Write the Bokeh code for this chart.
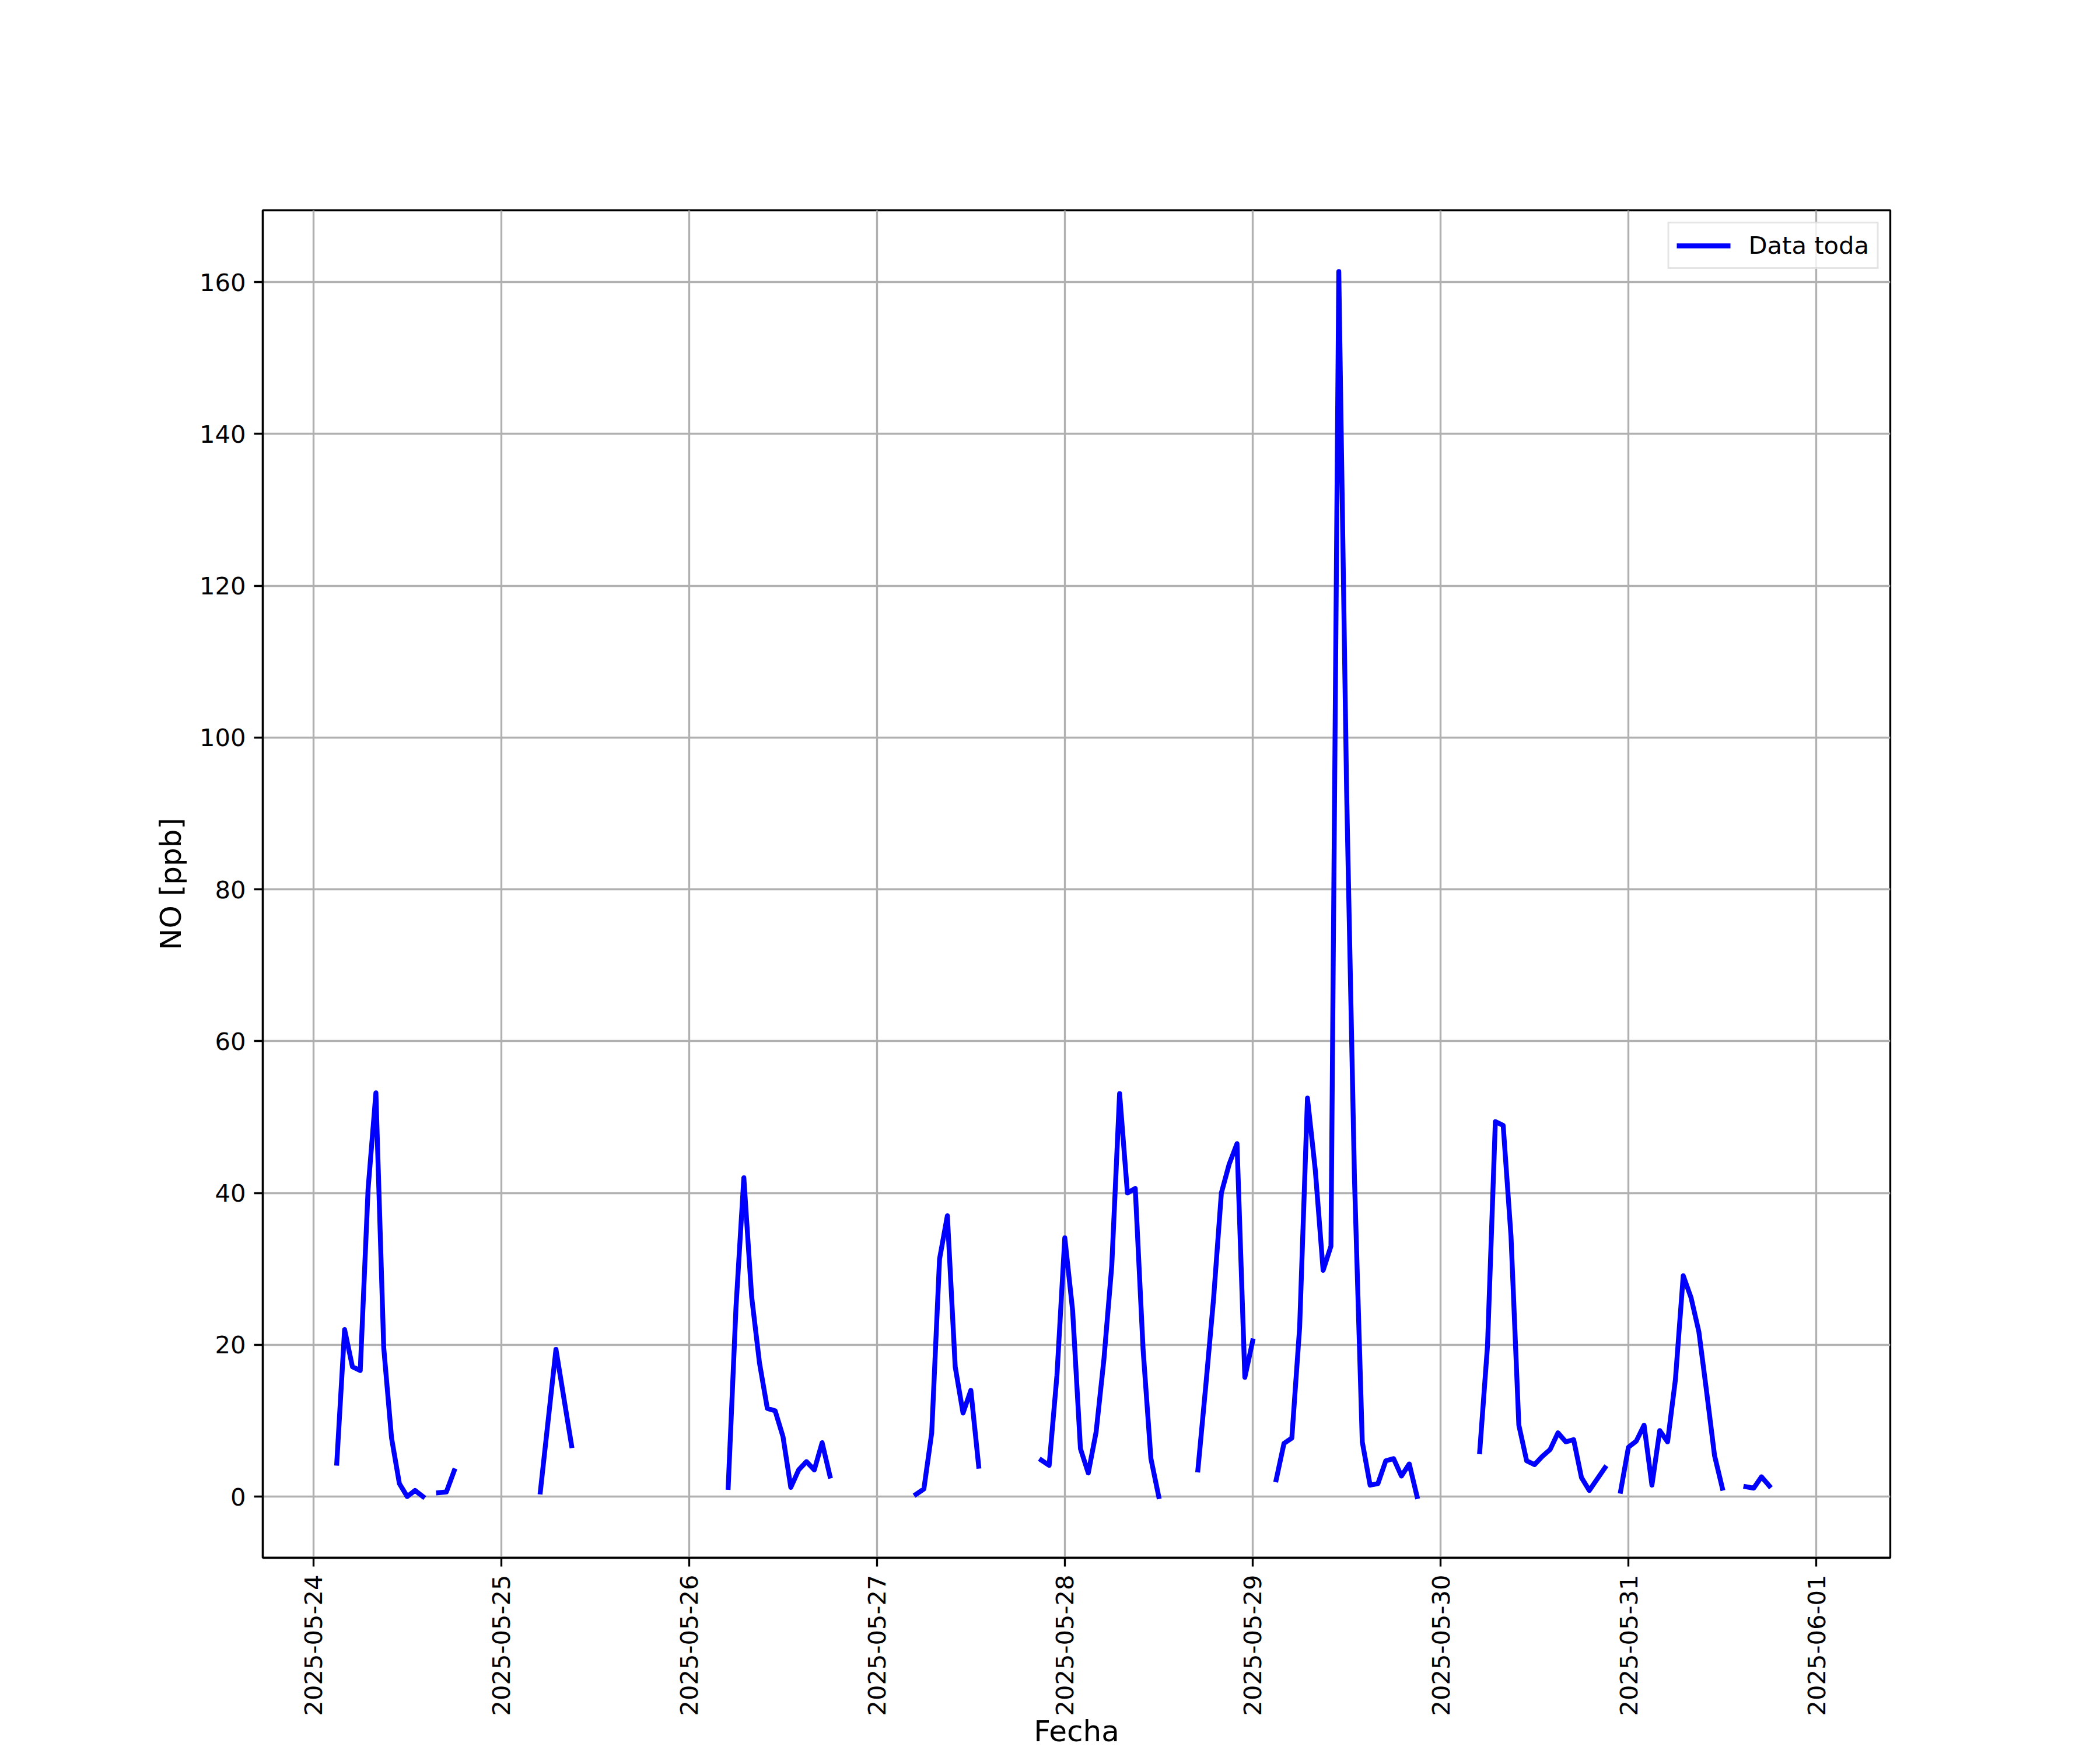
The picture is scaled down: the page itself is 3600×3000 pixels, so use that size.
import math
from datetime import datetime, timedelta

from bokeh.plotting import figure
from bokeh.models import (ColumnDataSource, Range1d, DaysTicker, DatetimeTickFormatter,
                          SingleIntervalTicker)
from bokeh.embed import file_html
from bokeh.resources import INLINE

# ---------------- data (NO, ppb; hourly readings, gaps = missing data) ----------------
seg1_start = "2025-05-24 03:00"
seg1_step_h = 1
seg1_vals = [4.4, 22.0, 17.1, 16.6, 40.5, 53.2, 19.6, 7.7, 1.7, 0.0, 0.8, 0.0]

seg2_start = "2025-05-24 16:00"
seg2_step_h = 1
seg2_vals = [0.5, 0.6, 3.4]

seg3_start = "2025-05-25 05:00"
seg3_step_h = 2
seg3_vals = [0.6, 19.4, 6.7]

seg4_start = "2025-05-26 05:00"
seg4_step_h = 1
seg4_vals = [1.2, 25.0, 42.0, 26.3, 17.6, 11.6, 11.3, 7.9, 1.2, 3.5, 4.6, 3.5, 7.1, 2.7]

seg5_start = "2025-05-27 05:00"
seg5_step_h = 1
seg5_vals = [0.3, 1.0, 8.4, 31.3, 37.0, 17.1, 11.0, 14.0, 4.0]

seg6_start = "2025-05-27 21:00"
seg6_step_h = 1
seg6_vals = [4.8, 4.1, 16.0, 34.1, 24.5, 6.3, 3.1, 8.5, 18.1, 30.4, 53.1, 40.0, 40.6,
             19.4, 5.0, 0.0]

seg7_start = "2025-05-28 17:00"
seg7_step_h = 1
seg7_vals = [3.5, 14.5, 26.0, 40.0, 43.8, 46.5, 15.7, 20.5]

seg8_start = "2025-05-29 03:00"
seg8_step_h = 1
seg8_vals = [2.2, 7.0, 7.7, 22.3, 52.5, 43.0, 29.8, 33.0, 161.4, 93.0, 42.0, 7.2, 1.5,
             1.7, 4.7, 5.0, 2.7, 4.3, 0.0]

seg9_start = "2025-05-30 05:00"
seg9_step_h = 1
seg9_vals = [5.9, 19.9, 49.4, 48.9, 34.3, 9.4, 4.7, 4.2, 5.3, 6.2, 8.4, 7.2, 7.5, 2.5,
             0.8, 2.3, 3.8]

seg10_start = "2025-05-30 23:00"
seg10_step_h = 1
seg10_vals = [0.7, 6.5, 7.3, 9.4, 1.5, 8.7, 7.2, 15.4, 29.1, 26.2, 21.7, 13.7, 5.4, 1.1]

seg11_start = "2025-05-31 15:00"
seg11_step_h = 1
seg11_vals = [1.3, 1.1, 2.6, 1.4]

data_first = "2025-05-24 03:00"
data_last = "2025-06-01 00:00"

series_label = "Data toda"
x_label = "Fecha"
y_label = "NO [ppb]"

segments = [
    (seg1_start, seg1_step_h, seg1_vals), (seg2_start, seg2_step_h, seg2_vals),
    (seg3_start, seg3_step_h, seg3_vals), (seg4_start, seg4_step_h, seg4_vals),
    (seg5_start, seg5_step_h, seg5_vals), (seg6_start, seg6_step_h, seg6_vals),
    (seg7_start, seg7_step_h, seg7_vals), (seg8_start, seg8_step_h, seg8_vals),
    (seg9_start, seg9_step_h, seg9_vals), (seg10_start, seg10_step_h, seg10_vals),
    (seg11_start, seg11_step_h, seg11_vals),
]

fmt = "%Y-%m-%d %H:%M"
ts, vs = [], []
for start, step, vals in segments:
    t0 = datetime.strptime(start, fmt)
    for i, v in enumerate(vals):
        ts.append(t0 + timedelta(hours=step * i))
        vs.append(v)
    ts.append(t0 + timedelta(hours=step * len(vals)))
    vs.append(float("nan"))

src = ColumnDataSource(dict(t=ts, v=vs))

# matplotlib-like 5% margins
t_first = datetime.strptime(data_first, fmt)
t_last = datetime.strptime(data_last, fmt)
span = t_last - t_first
x_start = t_first - span * 0.05
x_end = t_last + span * 0.05
finite = [v for v in vs if v == v]
vmax, vmin = max(finite), min(finite)
ypad = (vmax - vmin) * 0.05

FONT = "DejaVu Sans"
LW = 3.33

p = figure(width=3600, height=3000, x_axis_type="datetime",
           x_range=Range1d(x_start, x_end), y_range=Range1d(vmin - ypad, vmax + ypad),
           output_backend="svg", toolbar_location=None,
           min_border_left=450, min_border_top=360, min_border_right=360,
           min_border_bottom=330)

p.background_fill_color = "white"
p.border_fill_color = "white"
p.outline_line_color = "black"
p.outline_line_width = LW

p.line(x="t", y="v", source=src, line_color="#0000ff", line_width=8.33,
       line_cap="square", line_join="round", legend_label=series_label)

p.xaxis.ticker = DaysTicker(days=list(range(1, 32)), num_minor_ticks=0)
p.xaxis.formatter = DatetimeTickFormatter(days="%Y-%m-%d", months="%Y-%m-%d",
                                          hours="%Y-%m-%d")
p.yaxis.ticker = SingleIntervalTicker(interval=20, num_minor_ticks=0)

for ax in (p.xaxis, p.yaxis):
    ax.axis_line_color = "black"
    ax.axis_line_width = LW
    ax.major_tick_line_width = LW
    ax.major_tick_line_color = "black"
    ax.major_tick_out = 15
    ax.major_tick_in = 0
    ax.minor_tick_line_color = None
    ax.major_label_text_font = FONT
    ax.major_label_text_font_size = "41.67px"
    ax.major_label_text_color = "black"
    ax.major_label_standoff = 14
    ax.axis_label_text_font = FONT
    ax.axis_label_text_font_size = "50px"
    ax.axis_label_text_font_style = "normal"
    ax.axis_label_text_color = "black"

p.xaxis.major_label_orientation = math.pi / 2
p.xaxis.axis_label = x_label
p.xaxis.axis_label_standoff = -6
p.yaxis.axis_label = y_label
p.yaxis.axis_label_standoff = 17

p.xgrid.grid_line_color = "#b0b0b0"
p.ygrid.grid_line_color = "#b0b0b0"
p.xgrid.grid_line_width = LW
p.ygrid.grid_line_width = LW

lg = p.legend[0]
lg.location = "top_right"
lg.margin = 20
lg.padding = 13
lg.spacing = 0
lg.border_line_color = "#cccccc"
lg.border_line_width = LW
lg.background_fill_alpha = 0.8
lg.label_text_font = FONT
lg.label_text_font_size = "41.67px"
lg.label_text_color = "black"
lg.glyph_width = 92
lg.glyph_height = 46
lg.label_standoff = 31

open("out.html", "w").write(file_html(p, INLINE))
